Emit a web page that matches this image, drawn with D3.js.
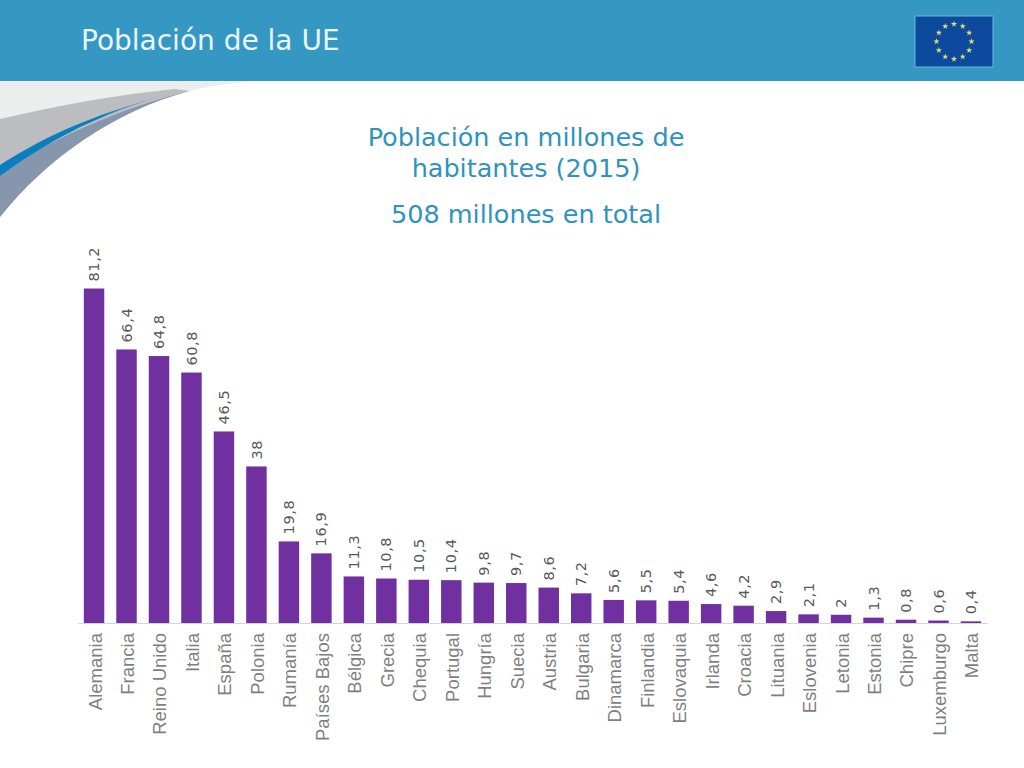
<!DOCTYPE html>
<html lang="es">
<head>
  <meta charset="UTF-8">
  <title>Población de la UE</title>
  <style>
    html, body { margin: 0; padding: 0; background: #fff; overflow: hidden; }
  </style>
</head>
<body>
<script src="https://cdn.jsdelivr.net/npm/d3@7"></script>
<script>
const categories = ["Alemania","Francia","Reino Unido","Italia","España","Polonia","Rumanía","Países Bajos","Bélgica","Grecia","Chequia","Portugal","Hungría","Suecia","Austria","Bulgaria","Dinamarca","Finlandia","Eslovaquia","Irlanda","Croacia","Lituania","Eslovenia","Letonia","Estonia","Chipre","Luxemburgo","Malta"]
const values = [81.2,66.4,64.8,60.8,46.5,38,19.8,16.9,11.3,10.8,10.5,10.4,9.8,9.7,8.6,7.2,5.6,5.5,5.4,4.6,4.2,2.9,2.1,2,1.3,0.8,0.6,0.4]
const titleLines = ["Población en millones de","habitantes (2015)"]
const subtitle = "508 millones en total"
const slideTitle = "Población de la UE"

const width = 1024
const height = 768
const sans = "'DejaVu Sans', Verdana, sans-serif"
const labelFont = "'Liberation Sans', Arial, sans-serif"

const svg = d3.select("body").append("svg")
  .attr("width", width)
  .attr("height", height)
  .style("display", "block")

// cabecera
svg.append("rect").attr("width", width).attr("height", 81).attr("fill", "#3498c3")
svg.append("text")
  .attr("x", 81).attr("y", 50)
  .attr("font-family", sans).attr("font-size", 28)
  .attr("fill", "#eaf5fa")
  .text(slideTitle)

// curva decorativa
const defs = svg.append("defs")
const grad = defs.append("linearGradient").attr("id", "swoosh")
  .attr("x1", 0).attr("x2", 1).attr("y1", 0).attr("y2", 0)
grad.append("stop").attr("offset", "0.5").attr("stop-color", "#0a7fc0")
grad.append("stop").attr("offset", "0.75").attr("stop-color", "#6fb7de")
grad.append("stop").attr("offset", "1").attr("stop-color", "#e6f0f5")

svg.append("path").attr("fill", "#ebeeed")
  .attr("d", "M0,81 H250 C225,84 205,87 190,91 C115,110 45,160 0,217 Z")
svg.append("path").attr("fill", "#bcbdc0")
  .attr("d", "M0,119 C60,105 115,95 175,89 L190,91 C115,110 45,160 0,217 Z")
svg.append("path").attr("fill", "#8596ad")
  .attr("d", "M0,172 C50,140 120,108 190,91 C115,110 45,160 0,217 Z")
svg.append("path").attr("fill", "url(#swoosh)")
  .attr("d", "M0,165 C40,140 90,112 205,85 C120,104 60,132 0,176 Z")

// bandera
const flag = svg.append("g").attr("transform", "translate(915,16)")
flag.append("rect")
  .attr("width", 78).attr("height", 51)
  .attr("fill", "#0d4a9e").attr("stroke", "#6db5de").attr("stroke-width", 1)
const star = d3.symbol().type(d3.symbolStar).size(12)
flag.selectAll("path").data(d3.range(12)).join("path")
  .attr("d", star)
  .attr("fill", "#dbe36a")
  .attr("transform", d => {
    const a = d / 12 * 2 * Math.PI
    return `translate(${39 + 17.5 * Math.sin(a)},${25.5 - 17.5 * Math.cos(a)})`
  })

// titulo del grafico
const titleColor = "#2f93bf"
svg.selectAll("text.title").data(titleLines).join("text")
  .attr("class", "title")
  .attr("x", 526).attr("y", (d, i) => 146 + i * 31)
  .attr("text-anchor", "middle")
  .attr("font-family", sans).attr("font-size", 25.5)
  .attr("fill", titleColor)
  .text(d => d)
svg.append("text")
  .attr("x", 526).attr("y", 223)
  .attr("text-anchor", "middle")
  .attr("font-family", sans).attr("font-size", 25.5)
  .attr("fill", titleColor)
  .text(subtitle)

// escalas
const x = d3.scaleBand().domain(categories).range([77.8, 987.2]).paddingInner(0.37).paddingOuter(0.185)
const y = d3.scaleLinear().domain([0, 81.2]).range([623, 288.5])

svg.selectAll("rect.bar").data(values).join("rect")
  .attr("class", "bar")
  .attr("x", (d, i) => x(categories[i]))
  .attr("y", d => y(d))
  .attr("width", x.bandwidth())
  .attr("height", d => y(0) - y(d))
  .attr("fill", "#7030a0")

const axis = svg.append("g")
  .attr("transform", `translate(0,${y(0)})`)
  .call(d3.axisBottom(x).tickSize(0).tickPadding(0))
axis.select(".domain").attr("stroke", "#d9d2dc").attr("stroke-width", 1)
axis.selectAll(".tick text")
  .attr("transform", "rotate(-90)")
  .attr("x", -10).attr("y", 1).attr("dy", "0.35em")
  .attr("text-anchor", "end")
  .attr("font-family", labelFont).attr("font-size", 18.5)
  .attr("fill", "#7f7f7f")

// etiquetas de valor
svg.selectAll("text.value").data(values).join("text")
  .attr("class", "value")
  .attr("transform", (d, i) => `translate(${x(categories[i]) + x.bandwidth() / 2},${y(d) - 7}) rotate(-90)`)
  .attr("dy", "0.35em")
  .attr("font-family", sans).attr("font-size", 14.5)
  .attr("letter-spacing", 0.6)
  .attr("fill", "#595959")
  .text(d => String(d).replace(".", ","))
</script>
</body>
</html>
